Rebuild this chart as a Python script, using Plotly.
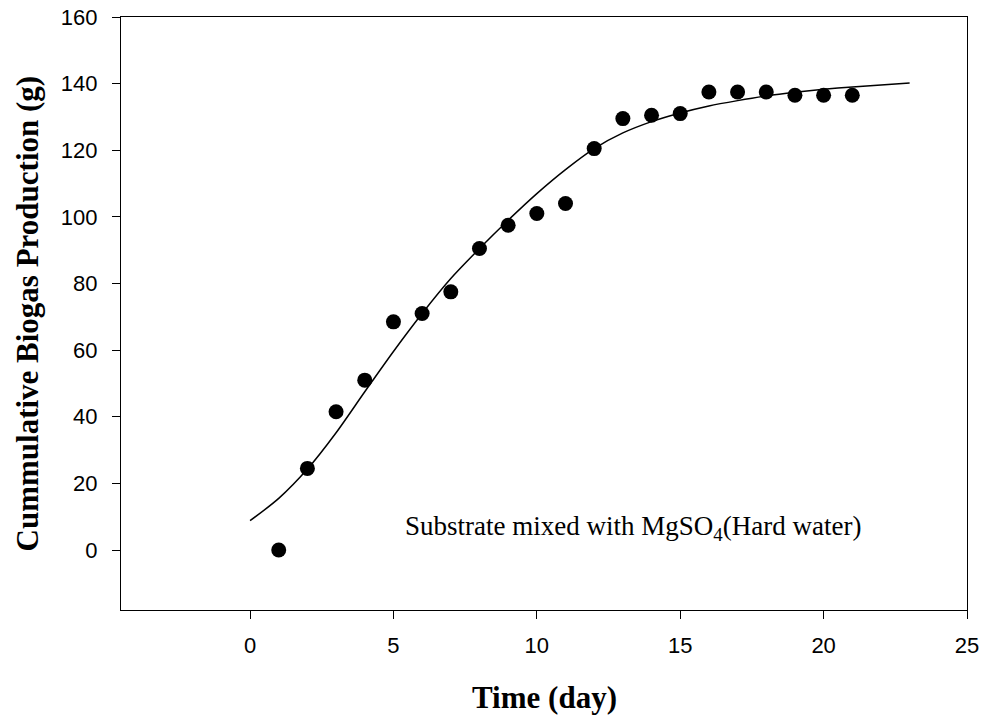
import plotly.graph_objects as go

# Observed data
days = list(range(1, 22))
biogas = [0, 24.5, 41.5, 51, 68.5, 71, 77.5, 90.5, 97.5, 101, 104, 120.5,
          129.5, 130.5, 131, 137.5, 137.5, 137.5, 136.5, 136.5, 136.5]

# Fitted curve
fit_x = list(range(0, 24))
fit_y = [8.8, 15.5, 24.3, 35.2, 47.5, 59.6, 71, 81.5, 90.5, 99, 107, 114.2,
         120.5, 125.2, 128.6, 131.2, 133.3, 134.9, 136.3, 137.4, 138.3, 139.0,
         139.6, 140.2]

x_ticks = [0, 5, 10, 15, 20, 25]
y_ticks = [0, 20, 40, 60, 80, 100, 120, 140, 160]

fig = go.Figure()
fig.add_trace(go.Scatter(x=fit_x, y=fit_y, mode="lines",
                         line=dict(color="black", width=1.5, shape="spline", smoothing=0.8),
                         showlegend=False, hoverinfo="skip"))
fig.add_trace(go.Scatter(x=days, y=biogas, mode="markers",
                         marker=dict(color="black", size=15, symbol="circle"),
                         showlegend=False))

axis_common = dict(showgrid=False, zeroline=False, showline=True, linecolor="black",
                   linewidth=1.3, mirror=True, ticks="outside", ticklen=8,
                   tickwidth=1.3, tickcolor="black", automargin=False,
                   tickfont=dict(family="Liberation Sans, Arial", size=22, color="black"))

fig.update_xaxes(range=[-4.5, 25], tickvals=x_ticks, ticklabelstandoff=7, **axis_common)
fig.update_yaxes(range=[-18, 160], tickvals=y_ticks, ticklabelstandoff=10, **axis_common)

fig.add_annotation(x=5.34, y=6.5, xref="x", yref="y", xanchor="left", yanchor="middle",
                   text="Substrate mixed with MgSO<sub>4</sub>(Hard water)", showarrow=False,
                   font=dict(family="Liberation Serif, Times New Roman", size=27, color="black"))

fig.add_annotation(x=0.5, y=0, xref="paper", yref="paper", yshift=-87, xanchor="center",
                   yanchor="middle", text="<b>Time (day)</b>", showarrow=False,
                   font=dict(family="Liberation Serif, Times New Roman", size=31, color="black"))
fig.add_annotation(x=0, y=0.5, xref="paper", yref="paper", xshift=-94, xanchor="center",
                   yanchor="middle", text="<b>Cummulative Biogas Production (g)</b>",
                   textangle=-90, showarrow=False,
                   font=dict(family="Liberation Serif, Times New Roman", size=31, color="black"))

fig.update_layout(width=982, height=718, plot_bgcolor="white", paper_bgcolor="white",
                  margin=dict(l=121, r=15, t=17, b=108))

fig.write_html("out.html")
